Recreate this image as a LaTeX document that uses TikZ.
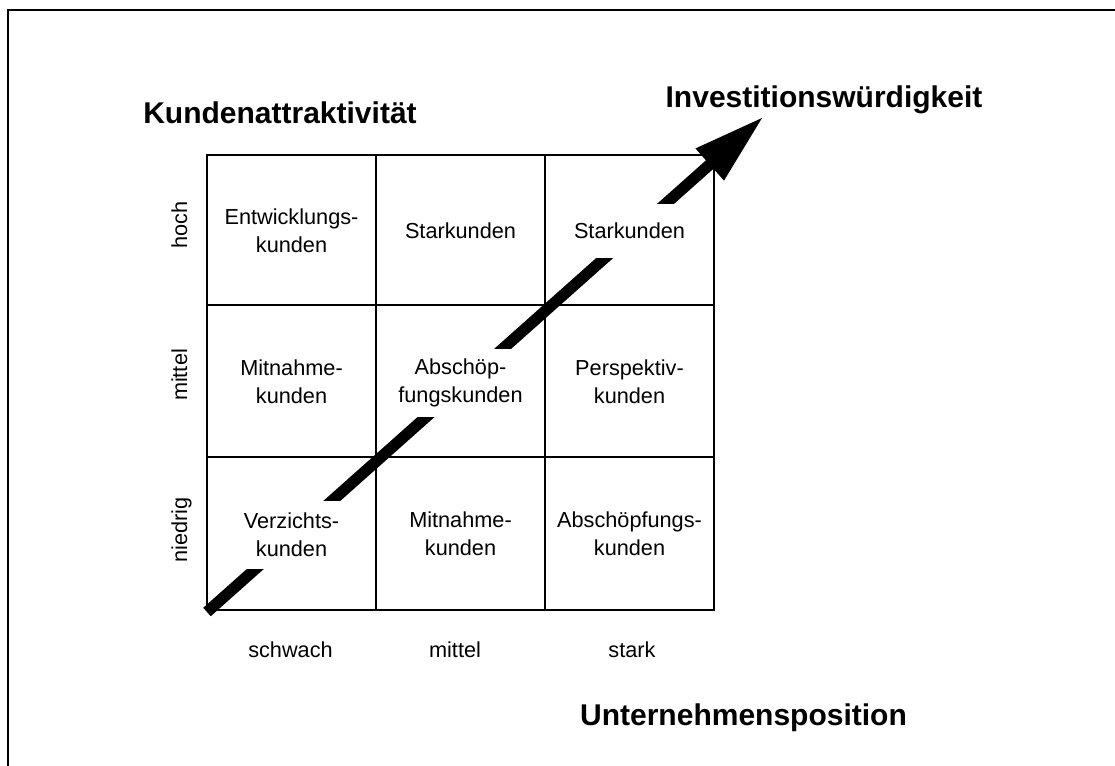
\documentclass[tikz,border=0pt]{standalone}
\usepackage{fontspec}
\setmainfont{Liberation Sans}
\usetikzlibrary{calc}
\begin{document}
\begin{tikzpicture}[x=1pt,y=-1pt,
  gridline/.style={line width=2pt},
  cell/.style={fill=white, align=center, inner xsep=4pt, inner ysep=0pt,
    minimum height=68pt, font=\fontsize{21.7}{28}\selectfont},
  single/.style={minimum height=54pt},
  axislabel/.style={font=\fontsize{21.7}{28}\selectfont, anchor=base, inner sep=0pt},
  title/.style={font=\fontsize{30}{36}\selectfont\bfseries, anchor=base, inner sep=0pt},
  arrowbar/.style={line width=11.3pt},
]
\useasboundingbox (0,0) rectangle (1115,765);

% outer frame (runs off the right and bottom edges)
\draw[line width=2pt] (8,790) -- (8,10) -- (1140,10);

% 3x3 portfolio grid
\draw[gridline] (207,155) rectangle (714,610);
\foreach \x in {376,545} \draw[gridline] (\x,155) -- (\x,610);
\foreach \y in {305,457} \draw[gridline] (207,\y) -- (714,\y);

% diagonal arrow: investment worthiness
\coordinate (tail) at (207,612);
\coordinate (tip) at (762,118);
\coordinate (headbase) at ($(tip)!70pt!(tail)$);
\draw[arrowbar] (tail) -- ($(tip)!60pt!(tail)$);
\fill ($(headbase)!21.5pt!90:(tip)$) -- (tip) -- ($(headbase)!21.5pt!-90:(tip)$) -- cycle;

% cell texts (white boxes interrupt the arrow)
\node[cell] (c11) at (291.5,231) {Entwicklungs-\\kunden};
\node[cell,single] (c12) at (460.5,231) {Starkunden};
\node[cell,single] (c13) at (629.5,231) {Starkunden};
\node[cell] (c21) at (291.5,382) {Mitnahme-\\kunden};
\node[cell] (c22) at (460.5,382.5) {Abschöp-\\fungskunden};
\node[cell] (c23) at (629.5,382) {Perspektiv-\\kunden};
\node[cell] (c31) at (291.5,535) {Verzichts-\\kunden};
\node[cell] (c32) at (460.5,534) {Mitnahme-\\kunden};
\node[cell] (c33) at (629.5,534) {Abschöpfungs-\\kunden};

% axis levels
\node[axislabel,rotate=90] (yhigh) at (187,225) {hoch};
\node[axislabel,rotate=90] (ymid) at (187,375) {mittel};
\node[axislabel,rotate=90] (ylow) at (187,530) {niedrig};
\node[axislabel] (xweak) at (290.5,657) {schwach};
\node[axislabel] (xmid) at (455,657) {mittel};
\node[axislabel] (xstrong) at (632,657) {stark};

% titles
\node[title] (ytitle) at (280,123) {Kundenattraktivität};
\node[title] (arrowtitle) at (824,108) {Investitionswürdigkeit};
\node[title] (xtitle) at (743.5,725) {Unternehmensposition};
\end{tikzpicture}
\end{document}
